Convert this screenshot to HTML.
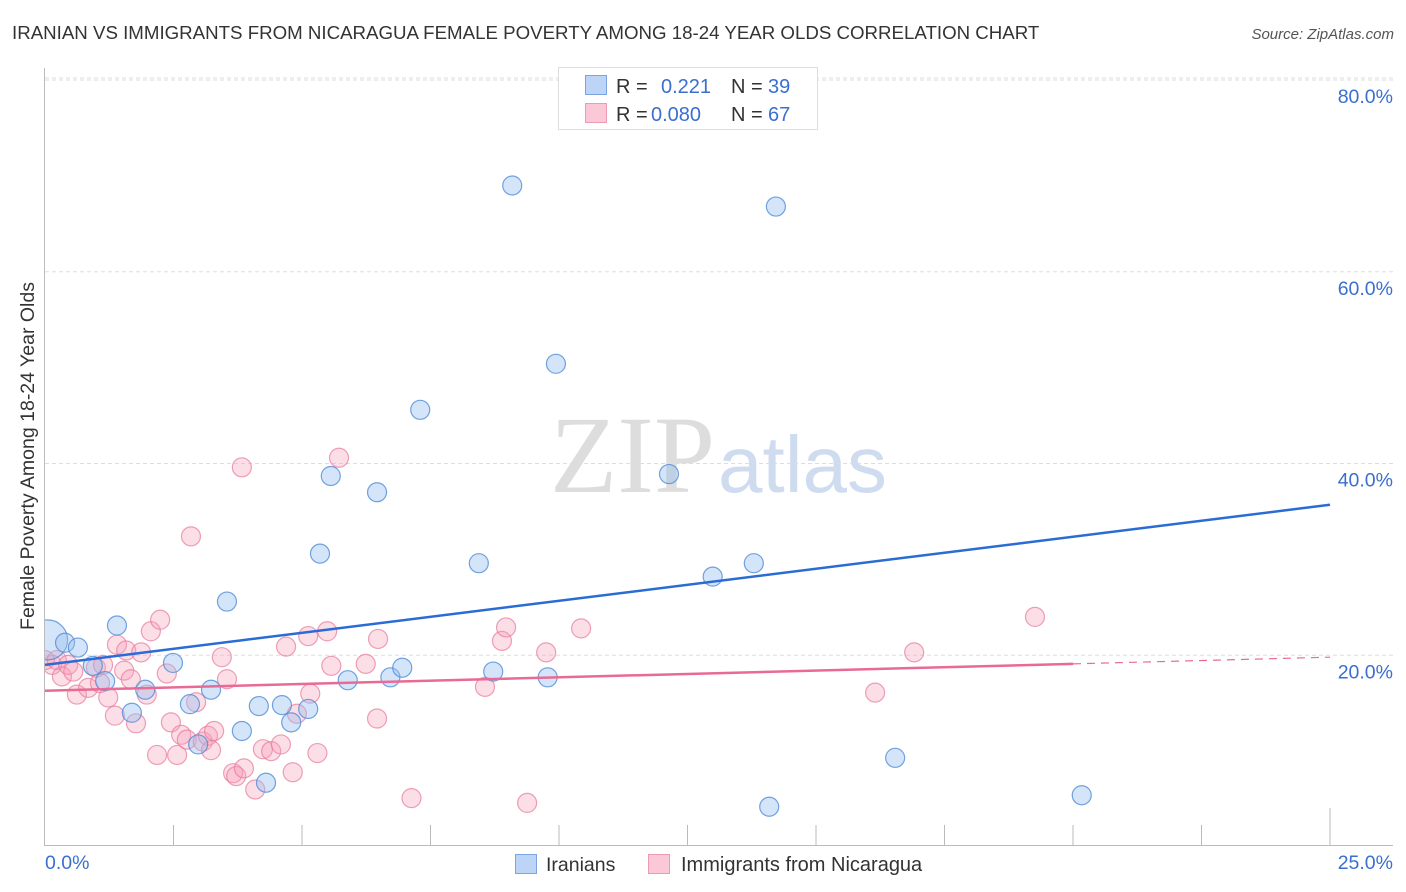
<!DOCTYPE html>
<html><head><meta charset="utf-8"><style>
body{margin:0;background:#fff;font-family:"Liberation Sans",sans-serif;}
svg{display:block}
</style></head><body>
<svg id="chart" width="1406" height="892">
<defs><clipPath id="plotclip"><rect x="45" y="60" width="1360" height="786"/></clipPath></defs>
<text x="12" y="39" font-size="18.7" fill="#333">IRANIAN VS IMMIGRANTS FROM NICARAGUA FEMALE POVERTY AMONG 18-24 YEAR OLDS CORRELATION CHART</text>
<text x="1394" y="39" font-size="15" fill="#555" font-style="italic" text-anchor="end">Source: ZipAtlas.com</text>
<text x="715" y="492" font-size="110" fill="#ddd" font-family="Liberation Serif" text-anchor="end">ZIP</text>
<text x="718" y="492" font-size="80" fill="#cfdcf0">atlas</text>
<text transform="translate(34,456) rotate(-90)" font-size="19.5" fill="#333" text-anchor="middle">Female Poverty Among 18-24 Year Olds</text>
<text x="45" y="869" font-size="19.5" fill="#3a6fd0">0.0%</text>
<text x="1393" y="869" font-size="19.5" fill="#3a6fd0" text-anchor="end">25.0%</text>
<g id="grid"></g><g id="pts" clip-path="url(#plotclip)"></g><g id="lines"></g>
<g>
<rect x="558.5" y="67.5" width="259" height="62" fill="#fff" stroke="#ddd"/>
<rect x="585.5" y="75.5" width="21" height="19" fill="#bcd4f5" stroke="#7aa5e0"/>
<rect x="585.5" y="103.5" width="21" height="19" fill="#fac8d6" stroke="#ee9ab2"/>
<text x="616" y="93" font-size="20" fill="#333">R =</text>
<text x="661" y="93" font-size="20" fill="#3a6fd0">0.221</text>
<text x="731" y="93" font-size="20" fill="#333">N =</text>
<text x="768" y="93" font-size="20" fill="#3a6fd0">39</text>
<text x="616" y="121" font-size="20" fill="#333">R =</text>
<text x="651" y="121" font-size="20" fill="#3a6fd0">0.080</text>
<text x="731" y="121" font-size="20" fill="#333">N =</text>
<text x="768" y="121" font-size="20" fill="#3a6fd0">67</text>
</g>
<g>
<rect x="515.5" y="854.5" width="21" height="19" fill="#bcd4f5" stroke="#7aa5e0"/>
<text x="546" y="871" font-size="19.5" fill="#333">Iranians</text>
<rect x="648.5" y="854.5" width="21" height="19" fill="#fac8d6" stroke="#ee9ab2"/>
<text x="681" y="871" font-size="20" fill="#333">Immigrants from Nicaragua</text>
</g>
</svg>
<script>
const yTicks=[20,40,60,80];
const xTicks=[0,2.5,5,7.5,10,12.5,15,17.5,20,22.5,25];
const blueX=[0.05,0.39,0.64,0.93,1.17,1.40,1.95,1.69,2.49,2.82,2.98,3.23,3.54,3.83,4.16,4.30,4.61,4.79,5.12,5.35,5.56,5.89,6.46,6.72,6.95,7.30,8.44,8.72,9.09,9.78,9.94,12.14,12.99,13.79,14.09,14.22,16.54,20.17];
const blueY=[21.6,21.3,20.8,18.9,17.3,23.1,16.4,14.0,19.2,14.9,10.7,16.4,25.6,12.1,14.7,6.7,14.8,13.0,14.4,30.6,38.7,17.4,37.0,17.7,18.7,45.6,29.6,18.3,69.0,17.7,50.4,38.9,28.2,29.6,4.2,66.8,9.3,5.4];
const pinkX=[0.14,0,0.23,0.33,0.45,0.55,0.62,0.84,0.99,1.13,1.07,1.23,1.36,1.40,1.54,1.58,1.67,1.77,1.87,1.98,2.06,2.18,2.24,2.37,2.45,2.57,2.65,2.76,2.84,2.94,3.07,3.17,3.23,3.29,3.44,3.54,3.66,3.72,3.83,3.87,4.09,4.24,4.40,4.59,4.69,4.82,4.90,5.12,5.16,5.30,5.49,5.57,5.72,6.24,6.46,6.48,7.13,8.56,8.89,8.97,9.38,9.75,10.43,16.15,16.91,19.26];
const pinkY=[19.0,19.5,19.5,17.8,19.0,18.3,15.9,16.6,18.7,19.0,17.1,15.6,13.7,21.1,18.4,20.5,17.5,12.9,20.3,15.9,22.5,9.6,23.7,18.1,13.0,9.6,11.7,11.2,32.4,15.1,11.0,11.6,10.1,12.1,19.8,17.5,7.7,7.4,39.6,8.2,6.0,10.2,10.0,10.7,20.9,7.8,13.9,22.0,16.0,9.8,22.5,18.9,40.6,19.1,13.4,21.7,5.1,16.7,21.5,22.9,4.6,20.3,22.8,16.1,20.3,24.0];
const blueLine=[0,19.0,25,35.7];
const pinkLine=[0,16.3,20,19.1,25,19.8];
const X=v=>45+v/25*1285, Y=v=>847-v/20*191.75;
const NS='http://www.w3.org/2000/svg';
function mk(p,t,a){const e=document.createElementNS(NS,t);for(const k in a)e.setAttribute(k,a[k]);p.appendChild(e);return e;}
const grid=document.getElementById('grid');
let e=mk(grid,'line',{x1:44.5,y1:68,x2:44.5,y2:845,stroke:'#bbb'});


e=mk(grid,'line',{x1:44,y1:845.5,x2:1393,y2:845.5,stroke:'#bbb'});


yTicks.forEach(t=>{
 e=mk(grid,'line',{x1:45,y1:Y(t),x2:1393,y2:Y(t),stroke:'#ddd','stroke-dasharray':'4,3'});
 
 
 e=mk(grid,'text',{x:1393,y:Y(t)+23,'font-size':19.5,fill:'#3a6fd0','text-anchor':'end'});
 e.textContent=t.toFixed(1)+'%';
 
 
});
e=mk(grid,'line',{x1:45,y1:78,x2:1393,y2:78,stroke:'#ddd','stroke-dasharray':'4,3'});


xTicks.forEach((t,i)=>{
 if(i==0)return;
 e=mk(grid,'line',{x1:X(t),y1:(i==10?808:825),x2:X(t),y2:845,stroke:'#bbb'});
 
 
});
const pts=document.getElementById('pts');
pinkX.forEach((x,i)=>{
 e=mk(pts,'circle',{cx:X(x),cy:Y(pinkY[i]),r:9.5,fill:'rgba(245,160,185,0.35)',stroke:'rgba(232,120,155,0.7)','stroke-width':1.2});
 
 
});
blueX.forEach((x,i)=>{
 e=mk(pts,'circle',{cx:X(x),cy:Y(blueY[i]),r:(i==0?20:9.5),fill:'rgba(150,190,240,0.4)',stroke:'rgba(80,140,215,0.8)','stroke-width':1.2});
 
 
});
const lines=document.getElementById('lines');
e=mk(lines,'line',{x1:X(blueLine[0]),y1:Y(blueLine[1]),x2:X(blueLine[2]),y2:Y(blueLine[3]),stroke:'#2a6bd6','stroke-width':2.5});


e=mk(lines,'line',{x1:X(pinkLine[0]),y1:Y(pinkLine[1]),x2:X(pinkLine[2]),y2:Y(pinkLine[3]),stroke:'#e86a95','stroke-width':2.5});


e=mk(lines,'line',{x1:X(pinkLine[2]),y1:Y(pinkLine[3]),x2:X(pinkLine[4]),y2:Y(pinkLine[5]),stroke:'#e86a95','stroke-width':1.2,'stroke-dasharray':'8,6'});


</script>
</body></html>
